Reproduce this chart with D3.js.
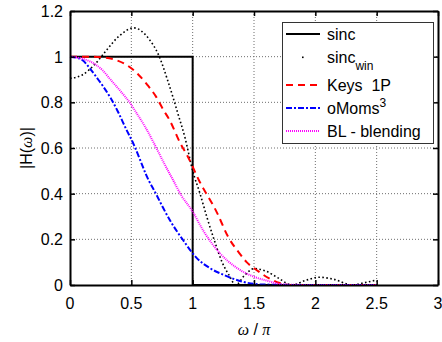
<!DOCTYPE html>
<html>
<head>
<meta charset="utf-8">
<script src="https://cdn.jsdelivr.net/npm/d3@7"></script>
<style>
  body { margin: 0; background: #fff; }
  svg text { font-family: "Liberation Sans", Arial, sans-serif; fill: #000; }
  .grid line { stroke: #6e6e6e; stroke-width: 1; stroke-dasharray: 1,2; }
  .greek { font-family: "Liberation Serif", "DejaVu Serif", serif; font-style: italic; }
</style>
</head>
<body>
<svg id="chart" width="442" height="342"></svg>
<script>
// tick values
const xTicks = [0, 0.5, 1, 1.5, 2, 2.5, 3];
const yTicks = [0, 0.2, 0.4, 0.6, 0.8, 1, 1.2];
const yTickLabels = ['0', '0.2', '0.4', '0.6', '0.8', '1', '1.2'];
const xTickLabels = ['0', '0.5', '1', '1.5', '2', '2.5', '3'];

// ideal sinc
const sincW = [0, 1, 1, 2.5];
const sincH = [1, 1, 0, 0];

// windowed sinc
const sincWinW = [0, 0.1, 0.2, 0.3, 0.4, 0.52, 0.64, 0.72, 0.8, 0.88, 0.94, 1.0, 1.06, 1.12, 1.18, 1.24, 1.3, 1.35, 1.42, 1.5, 1.6, 1.7, 1.81, 1.92, 2.03, 2.15, 2.3, 2.4, 2.5];
const sincWinH = [0.905, 0.92, 0.965, 1.03, 1.09, 1.126, 1.08, 1.01, 0.89, 0.75, 0.64, 0.5, 0.40, 0.29, 0.19, 0.10, 0.04, 0.0, 0.04, 0.072, 0.06, 0.03, 0.0, 0.02, 0.034, 0.025, 0.0, 0.01, 0.022];

// Keys 1P
const keysW = [0, 0.15, 0.27, 0.38, 0.48, 0.56, 0.63, 0.7, 0.76, 0.81, 0.9, 0.96, 1.05, 1.2, 1.29, 1.38, 1.44, 1.52, 1.62, 1.71, 1.8, 2.0, 2.5];
const keysH = [1, 1.0, 0.997, 0.984, 0.957, 0.92, 0.877, 0.826, 0.768, 0.724, 0.62, 0.563, 0.46, 0.315, 0.21, 0.14, 0.10, 0.066, 0.03, 0.009, 0, 0, 0];

// oMoms^3
const omomsW = [0, 0.095, 0.16, 0.22, 0.27, 0.33, 0.39, 0.46, 0.52, 0.57, 0.62, 0.71, 0.76, 0.83, 0.92, 1.03, 1.14, 1.25, 1.41, 1.58, 2.0, 2.5];
const omomsH = [1, 0.987, 0.95, 0.907, 0.87, 0.82, 0.76, 0.68, 0.615, 0.55, 0.483, 0.39, 0.337, 0.27, 0.198, 0.12, 0.074, 0.045, 0.014, 0.002, 0, 0];

// BL - blending
const blW = [0, 0.16, 0.26, 0.33, 0.41, 0.49, 0.54, 0.61, 0.69, 0.77, 0.84, 0.91, 0.99, 1.09, 1.22, 1.36, 1.49, 1.6, 1.74, 2.0, 2.5];
const blH = [1, 0.98, 0.943, 0.9, 0.85, 0.797, 0.755, 0.695, 0.615, 0.53, 0.46, 0.39, 0.33, 0.235, 0.14, 0.075, 0.038, 0.02, 0.002, 0, 0];

const margin = { top: 11, left: 70, right: 4, bottom: 57 };
const width = 442, height = 342;

const svg = d3.select('#chart');
const x = d3.scaleLinear().domain([0, 3]).range([margin.left, width - margin.right]);
const y = d3.scaleLinear().domain([0, 1.2]).range([height - margin.bottom, margin.top]);

const zip = (w, h) => w.map((d, i) => [d, h[i]]);

// grid
const grid = svg.append('g').attr('class', 'grid');
grid.selectAll('.gx').data(xTicks.slice(1, -1)).join('line')
  .attr('x1', d => x(d)).attr('x2', d => x(d))
  .attr('y1', y(0)).attr('y2', y(1.2));
grid.selectAll('.gy').data(yTicks.slice(1, -1)).join('line')
  .attr('y1', d => y(d)).attr('y2', d => y(d))
  .attr('x1', x(0)).attr('x2', x(3));

// series
const series = [
  { name: 'sinc', data: zip(sincW, sincH), color: '#000', width: 2, dash: null, curve: d3.curveLinear },
  { name: 'sincwin', data: zip(sincWinW, sincWinH), color: '#000', width: 1.6, dash: '1.6,2.4', curve: d3.curveMonotoneX },
  { name: 'keys', data: zip(keysW, keysH), color: '#ff0000', width: 2, dash: '7,5', curve: d3.curveMonotoneX },
  { name: 'omoms', data: zip(omomsW, omomsH), color: '#0000ff', width: 2, dash: '6,2,2,2', curve: d3.curveMonotoneX },
  { name: 'bl', data: zip(blW, blH), color: '#ff00ff', width: 2, dash: '1,1', curve: d3.curveMonotoneX }
];

const lines = svg.append('g');
series.forEach(s => {
  const line = d3.line().x(d => x(d[0])).y(d => y(d[1])).curve(s.curve);
  lines.append('path')
    .attr('d', line(s.data))
    .attr('fill', 'none')
    .attr('stroke', s.color)
    .attr('stroke-width', s.width)
    .attr('stroke-dasharray', s.dash);
});

// axes box with inward ticks
const axisBottom = d3.axisBottom(x).tickValues(xTicks).tickSizeInner(-5).tickSizeOuter(0).tickFormat('');
const axisTop = d3.axisTop(x).tickValues(xTicks).tickSizeInner(-5).tickSizeOuter(0).tickFormat('');
const axisLeft = d3.axisLeft(y).tickValues(yTicks).tickSizeInner(-5).tickSizeOuter(0).tickFormat('');
const axisRight = d3.axisRight(y).tickValues(yTicks).tickSizeInner(-5).tickSizeOuter(0).tickFormat('');

svg.append('g').attr('transform', `translate(0, ${y(0)})`).call(axisBottom);
svg.append('g').attr('transform', `translate(0, ${y(1.2)})`).call(axisTop);
svg.append('g').attr('transform', `translate(${x(0)}, 0)`).call(axisLeft);
svg.append('g').attr('transform', `translate(${x(3)}, 0)`).call(axisRight);
svg.selectAll('.domain').attr('stroke', '#000').attr('stroke-width', 2);
svg.selectAll('.tick line').attr('stroke', '#000').attr('stroke-width', 1.5);

// tick labels
svg.append('g').selectAll('text').data(xTicks).join('text')
  .attr('x', d => x(d)).attr('y', y(0) + 24)
  .attr('text-anchor', 'middle').attr('font-size', 16)
  .text((d, i) => xTickLabels[i]);
svg.append('g').selectAll('text').data(yTicks).join('text')
  .attr('x', x(0) - 7).attr('y', d => y(d) + 6)
  .attr('text-anchor', 'end').attr('font-size', 16)
  .text((d, i) => yTickLabels[i]);

// axis titles
const xl = svg.append('text')
  .attr('x', (x(0) + x(3)) / 2).attr('y', 335)
  .attr('text-anchor', 'middle').attr('font-size', 16);
xl.append('tspan').attr('class', 'greek').text('ω');
xl.append('tspan').text(' / ');
xl.append('tspan').attr('class', 'greek').text('π');

const yl = svg.append('text')
  .attr('transform', `translate(32, ${(y(0) + y(1.2)) / 2}) rotate(-90)`)
  .attr('text-anchor', 'middle').attr('font-size', 16);
yl.append('tspan').text('|H(');
yl.append('tspan').attr('class', 'greek').text('ω');
yl.append('tspan').text(')|');

// legend
const legend = svg.append('g');
legend.append('rect')
  .attr('x', 282.5).attr('y', 22.5).attr('width', 151).attr('height', 121)
  .attr('fill', '#fff').attr('stroke', '#333').attr('stroke-width', 1);

const legendRows = [
  { s: series[0], y: 34, label: 'sinc' },
  { s: series[1], y: 57, label: 'sinc', sub: 'win' },
  { s: series[2], y: 85, label: 'Keys  1P' },
  { s: series[3], y: 108, label: 'oMoms', sup: '3' },
  { s: series[4], y: 131, label: 'BL - blending' }
];

legendRows.forEach(r => {
  if (r.s.name === 'sincwin') {
    legend.append('rect').attr('x', 302).attr('y', r.y - 0.5)
      .attr('width', 1.6).attr('height', 1.6).attr('fill', '#000');
  } else {
    legend.append('line')
      .attr('x1', 286).attr('x2', 320).attr('y1', r.y).attr('y2', r.y)
      .attr('stroke', r.s.color).attr('stroke-width', r.s.width)
      .attr('stroke-dasharray', r.s.dash);
  }
  const t = legend.append('text')
    .attr('x', 327).attr('y', r.y + 6).attr('font-size', 16)
    .style('white-space', 'pre');
  t.append('tspan').text(r.label);
  if (r.sub) t.append('tspan').attr('dy', 7).attr('font-size', 12).text(r.sub);
  if (r.sup) t.append('tspan').attr('dy', -7).attr('font-size', 12).text(r.sup);
});
</script>
</body>
</html>
